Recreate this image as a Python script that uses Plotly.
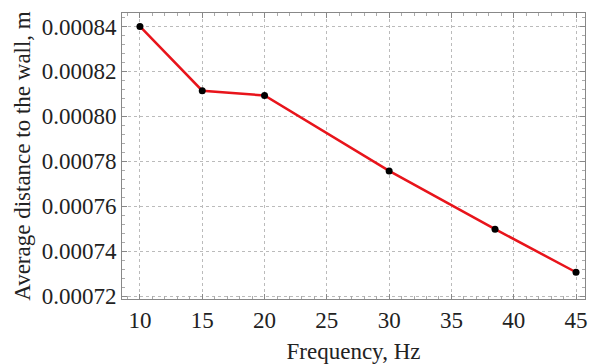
import plotly.graph_objects as go

freq = [10, 15, 20, 30, 38.5, 45]
dist = [0.00084, 0.0008114, 0.0008093, 0.0007757, 0.0007498, 0.0007306]
x_ticks = [10, 15, 20, 25, 30, 35, 40, 45]
y_ticks = [0.00072, 0.00074, 0.00076, 0.00078, 0.00080, 0.00082, 0.00084]
y_labels = ["0.00072", "0.00074", "0.00076", "0.00078", "0.00080", "0.00082", "0.00084"]

FAMILY = "Liberation Serif, Times New Roman, serif"
tick_font = dict(family=FAMILY, size=23, color="#222")
title_font = dict(family=FAMILY, size=23, color="#222")

fig = go.Figure(go.Scatter(
    x=freq, y=dist, mode="lines+markers",
    line=dict(color="#e8141b", width=2.5),
    marker=dict(color="black", size=7),
))

fig.update_layout(
    width=589, height=364,
    margin=dict(l=122, r=2, t=13, b=65),
    paper_bgcolor="white", plot_bgcolor="white",
    font=tick_font, showlegend=False,
)
fig.update_xaxes(
    range=[8.56, 45.72], tickvals=x_ticks, ticktext=[str(v) for v in x_ticks],
    tickfont=tick_font, ticklabeloverflow="allow",
    showline=True, linecolor="#888", linewidth=1, mirror="allticks",
    ticks="inside", ticklen=5, tickcolor="#888",
    minor=dict(dtick=1, ticks="inside", ticklen=3, tickcolor="#aaa", showgrid=False),
    showgrid=True, gridcolor="#bbb", griddash="dot", gridwidth=1,
    zeroline=False,
    title=dict(text="Frequency, Hz", standoff=12, font=title_font),
)
fig.update_yaxes(
    range=[0.0007187, 0.000846], tickvals=y_ticks, ticktext=y_labels,
    tickfont=tick_font, ticklabeloverflow="allow",
    showline=True, linecolor="#888", linewidth=1, mirror="allticks",
    ticks="inside", ticklen=5, tickcolor="#888",
    minor=dict(dtick=0.000004, ticks="inside", ticklen=3, tickcolor="#aaa", showgrid=False),
    showgrid=True, gridcolor="#bbb", griddash="dot", gridwidth=1,
    zeroline=False,
    title=dict(text="Average distance to the wall, m", standoff=4, font=title_font),
)

fig.write_html(
    "out.html",
    config={"displayModeBar": False},
    post_script="document.body.style.margin='0';document.body.style.overflow='hidden';",
)
